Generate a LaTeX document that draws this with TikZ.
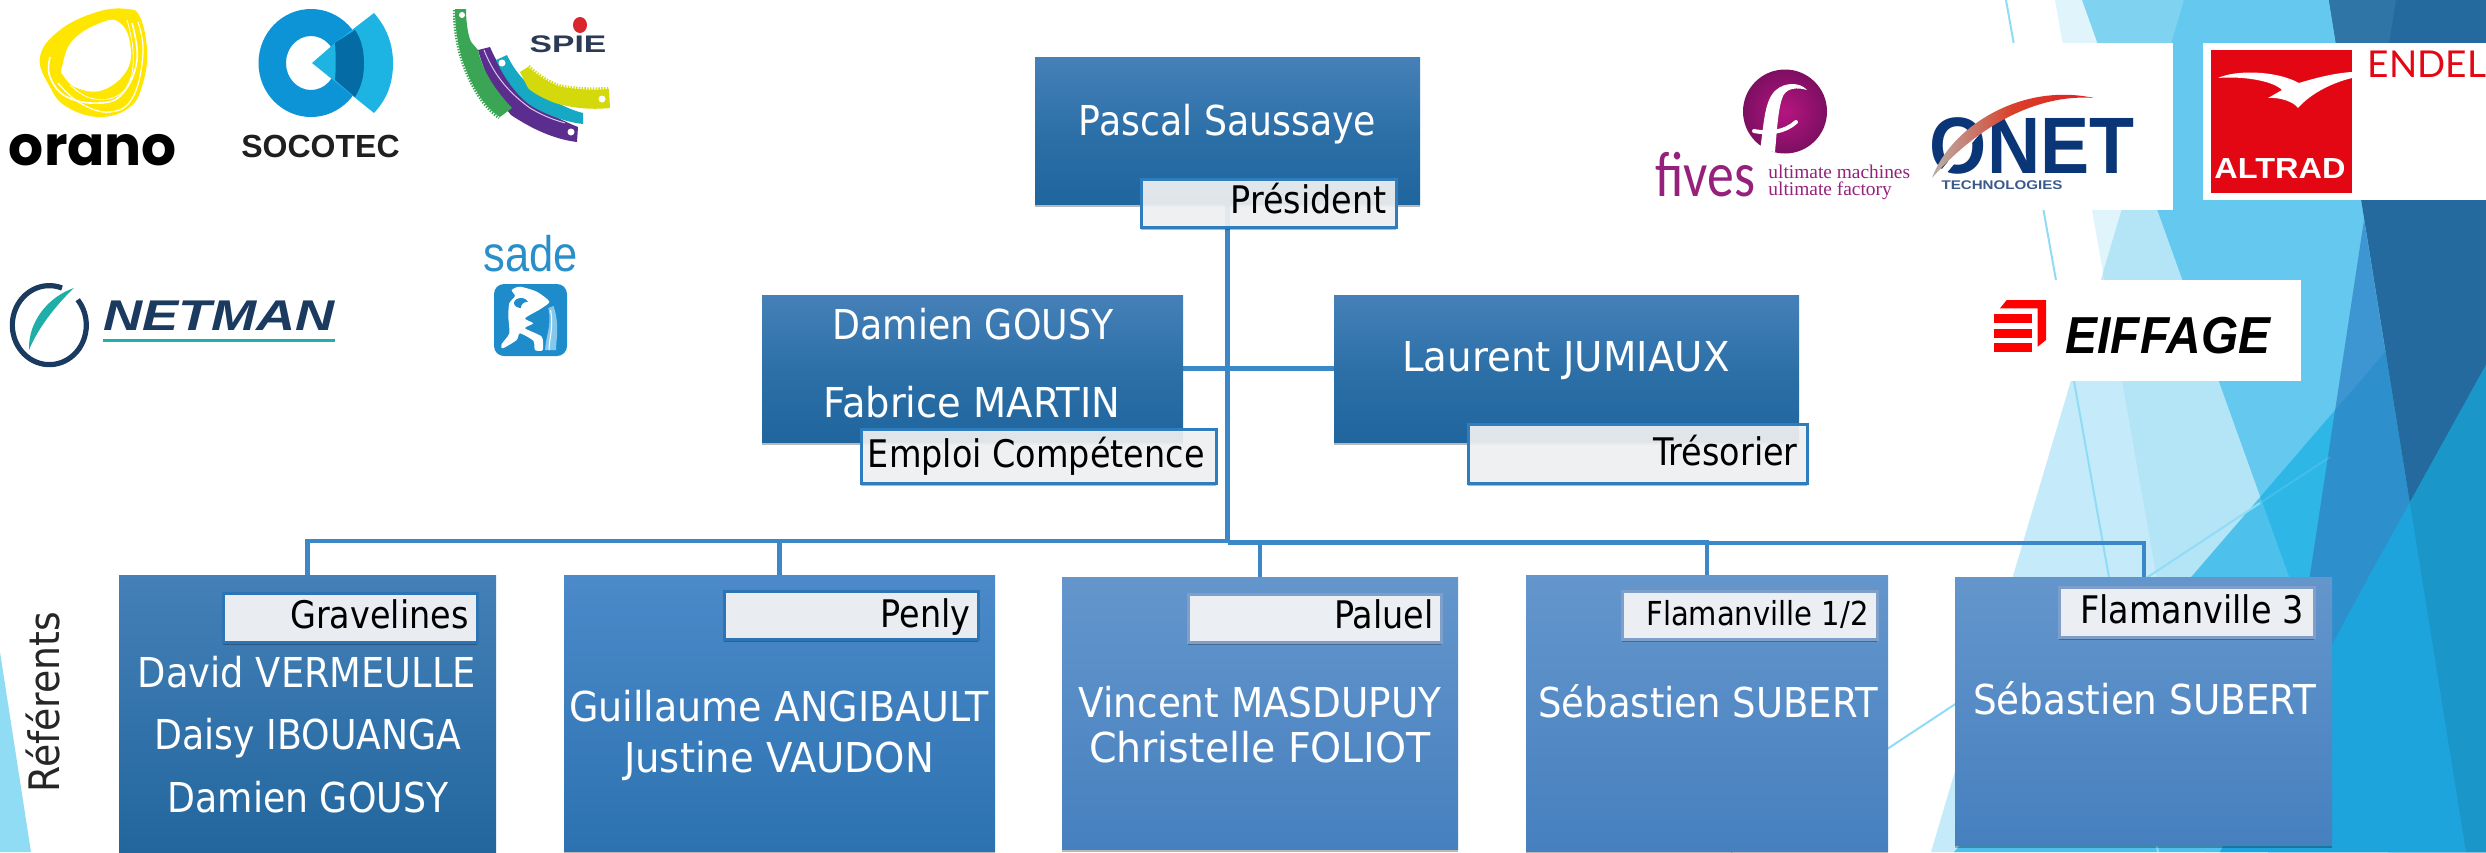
\documentclass[tikz,border=0pt]{standalone}
\usepackage{fontspec}
\usetikzlibrary{shadows}
\setmainfont{DejaVu Sans}
\newfontfamily\nmfont[FakeStretch=0.88]{DejaVu Sans}
\newfontfamily\refont[FakeStretch=0.9]{DejaVu Sans}
\newfontfamily\lgsans{Liberation Sans}
\newfontfamily\lgserif{Liberation Serif}
\newfontfamily\lgpop{Poppins}
\newfontfamily\lgcar{Carlito}
\newfontfamily\lglat{Lato}
\newcommand\dc[1]{\definecolor{#1}{HTML}{#1}}
\dc{DFF4FB}\dc{C5EAF9}\dc{B3E5F7}\dc{7FD3F0}\dc{65C8EE}\dc{4DC0EB}\dc{2EB7E6}\dc{3D96D2}\dc{2D90CC}\dc{246A9E}\dc{2F75A5}\dc{1EA4DC}\dc{1A96C9}
\dc{4680B8}\dc{1F659E}\dc{2D70A8}\dc{4580B8}\dc{22669E}\dc{4C8ACA}\dc{2C72B0}\dc{6496CC}\dc{4680BF}\dc{2E7DBE}\dc{F6F7F8}\dc{2C74B4}\dc{E9EDF2}\dc{7F9FCB}\dc{EBEEF3}
\dc{FFE600}\dc{0D94D6}\dc{1DB4E3}\dc{046BA5}\dc{5B2D8E}\dc{17A9C4}\dc{D4D90B}\dc{3AA655}\dc{D9272E}\dc{2B3A55}\dc{1A3A5F}\dc{1FAFA8}\dc{1FB0AC}\dc{2A8FC9}\dc{1E8CCB}\dc{86C8EC}\dc{B5157F}\dc{7D0F62}\dc{96217D}\dc{0A3577}\dc{B8B0AA}\dc{E21C21}\dc{3A5A8C}\dc{D9402A}\dc{D8C8EA}
\definecolor{cLineA}{HTML}{3C87C8}
\definecolor{cThin}{HTML}{90DCF5}
\definecolor{cRed}{HTML}{E30613}
\tikzset{
  softshadow/.style={drop shadow={shadow xshift=0pt,shadow yshift=-1.6pt,opacity=.28,fill=black}},
  bluebox/.style={rectangle,inner sep=0pt,outer sep=0pt,softshadow,top color=#1},
  topbox/.style={bluebox=4680B8,bottom color=1F659E,middle color=2D70A8},
  darkbox/.style={bluebox=4580B8,bottom color=22669E},
  midbox/.style={bluebox=4C8ACA,bottom color=2C72B0},
  palebox/.style={bluebox=6496CC,bottom color=4680BF},
  tag/.style={rectangle,inner sep=0pt,outer sep=0pt,softshadow,line width=1.5pt},
  tagtop/.style={tag,draw=2E7DBE,fill=F6F7F8,fill opacity=.9},
  tagdark/.style={tag,draw=2C74B4,fill=E9EDF2},
  tagpale/.style={tag,draw=7F9FCB,fill=EBEEF3},
  nameText/.style={inner sep=0pt,text=white,anchor=base,font=\nmfont\fontsize{20.6}{24}\selectfont},
  tagText/.style={inner sep=0pt,text=black,anchor=base east,font=\nmfont\fontsize{19}{22}\selectfont},
  conn/.style={draw=cLineA,line width=2.6pt},
  bus/.style={draw=cLineA,line width=2.2pt},
  thinline/.style={draw=cThin,line width=1pt},
  lgtext/.style={inner sep=0pt,anchor=base},
}
\newcommand\pxnode[6]{%
  \pgfmathsetmacro\pxcx{(#3+#5)/2}\pgfmathsetmacro\pxcy{(#4+#6)/2}%
  \pgfmathsetmacro\pxw{(#5-#3)/2}\pgfmathsetmacro\pxh{(#6-#4)/2}%
  \node[#2,minimum width=\pxw pt,minimum height=\pxh pt] (#1) at (\pxcx,\pxcy) {};}
\def\RLthree{(2055,0)--(2205,852)--(2486,852)--(2486,0)--cycle}
\def\RLone{(2184,0)--(1931,852)--(2486,852)--(2486,0)--cycle}
\def\RLtwo{(2082,0)--(2388,852)--(2486,852)--(2486,0)--cycle}
\def\BLfour{(2500,219)--(1954,852)--(2486,852)--(2500,852)--cycle}
\def\QLfive{(2364,220)--(2268,852)--(2466,852)--cycle}
\def\RLsix{(2329,0)--(2466,852)--(2486,852)--(2486,0)--cycle}
\def\BLseven{(2486,365)--(2368,578)--(2220,852)--(2486,852)--cycle}
\begin{document}
\begin{tikzpicture}[x=0.5pt,y=-0.5pt]
\useasboundingbox (0,0) rectangle (2486,852);
\clip (0,0) rectangle (2486,852);
% ---- background facets
\fill[white] (0,0) rectangle (2486,852);
\fill[cThin] (0,652)--(31,852)--(0,852)--cycle;
\fill[DFF4FB] \RLthree;
\fill[C5EAF9] \RLone;
\begin{scope}\clip \RLone; \fill[B3E5F7] \RLthree;\end{scope}
\begin{scope}\clip \RLthree; \fill[7FD3F0] \RLtwo;\end{scope}
\begin{scope}\clip \RLone; \fill[65C8EE] \RLtwo;\end{scope}
\fill[4DC0EB] \BLfour;
\begin{scope}\clip \RLtwo; \fill[2EB7E6] \BLfour;\end{scope}
\fill[3D96D2] \QLfive;
\begin{scope}\clip \BLfour; \fill[2D90CC] \QLfive;\end{scope}
\fill[246A9E] \RLsix;
\fill[2F75A5] (2329,0)--(2396,0)--(2389,43)--(2336,43)--cycle;
\fill[1EA4DC] \BLseven;
\begin{scope}\clip \RLsix; \fill[1A96C9] \BLseven;\end{scope}
\coordinate (thinAa) at (2006,0);
\coordinate (thinAb) at (2158,852);
\coordinate (thinBa) at (1731,852);
\coordinate (thinBm) at (2260,503);
\coordinate (thinBb) at (2330,457);
\draw[thinline] (thinAa) -- (thinAb);
\draw[thinline] (thinBa) -- (thinBm);
\draw[thinline,opacity=.2] (thinBm) -- (thinBb);
% ---- white logo panels
\fill[white] (1640,43) rectangle (2173,210);
\fill[white] (2203,43) rectangle (2486,200);
\fill[white] (1985,280) rectangle (2301,381);
% ---- connectors (behind the boxes)
\coordinate (pascalS) at (1227.5,204);
\coordinate (busL) at (1227.5,541);
\coordinate (busM) at (1227.5,542.5);
\coordinate (busR) at (1707,543);
\coordinate (gravN) at (307.5,575);
\coordinate (penlyN) at (779.5,575);
\coordinate (paluelN) at (1260,577);
\coordinate (flaN) at (1707,575);
\coordinate (flbN) at (2144,577);
\coordinate (damE) at (1183,368.5);
\coordinate (lauW) at (1334,368.5);
\draw[conn] (pascalS) -- (busM);
\draw[conn] (damE) -- (lauW);
\draw[bus] (busL) -| (gravN);
\draw[bus] (busL) -| (penlyN);
\draw[bus] (busM) -| (paluelN);
\draw[bus] (busM) -| (flaN);
\draw[bus] (busR) -| (flbN);
\pxnode{pascal}{topbox}{1035}{57}{1420}{204}
\pxnode{damien}{topbox}{762}{295}{1183}{442}
\pxnode{laurent}{topbox}{1334}{295}{1799}{442}
\pxnode{gravelines}{darkbox}{119}{575}{496}{853}
\pxnode{penly}{midbox}{564}{575}{995}{851}
\pxnode{paluel}{palebox}{1062}{577}{1458}{849}
\pxnode{flaone}{palebox}{1526}{575}{1888}{851}
\pxnode{flathree}{palebox}{1955}{577}{2332}{845}
\pxnode{tagPres}{tagtop}{1141}{179}{1396}{227}
\pxnode{tagEmploi}{tagtop}{861}{429}{1216}{483}
\pxnode{tagTres}{tagtop}{1468}{424}{1807}{483}
\pxnode{tagGrav}{tagdark}{223}{593}{477}{642}
\pxnode{tagPenly}{tagdark}{724}{591}{978}{639}
\pxnode{tagPaluel}{tagpale}{1188}{594}{1441}{642}
\pxnode{tagFla}{tagpale}{1622}{591}{1877}{639}
\pxnode{tagFlb}{tagpale}{2059}{587}{2314}{637}
% ---- names
\node[nameText] (tPascal) at (1227.5,135) {Pascal Saussaye};
\node[nameText] (tDamien) at (973,339) {Damien GOUSY};
\node[nameText,xscale=1.06] (tFabrice) at (972,417) {Fabrice MARTIN};
\node[nameText,xscale=1.07] (tLaurent) at (1566,371) {Laurent JUMIAUX};
\node[nameText,xscale=1.015] (tDavid) at (307,687) {David VERMEULLE};
\node[nameText] (tDaisy) at (308,749) {Daisy IBOUANGA};
\node[nameText] (tDamienB) at (308,812) {Damien GOUSY};
\node[nameText,xscale=1.05] (tGuillaume) at (779,721) {Guillaume ANGIBAULT};
\node[nameText,xscale=1.065] (tJustine) at (779,772) {Justine VAUDON};
\node[nameText,xscale=1.03] (tVincent) at (1260,717) {Vincent MASDUPUY};
\node[nameText,xscale=1.09] (tChristelle) at (1260,762) {Christelle FOLIOT};
\node[nameText,xscale=1.02] (tSeb) at (1708,717) {Sébastien SUBERT};
\node[nameText,xscale=1.03] (tSebB) at (2144.5,714) {Sébastien SUBERT};
% ---- tags
\node[tagText] (tPres) at (1387,213) {Président};
\node[tagText] (tEmploi) at (1205,467) {Emploi Compétence};
\node[tagText] (tTres) at (1798,465) {Trésorier};
\node[tagText] (tGrav) at (469,628) {Gravelines};
\node[tagText] (tPenly) at (971,627) {Penly};
\node[tagText] (tPaluel) at (1434,628) {Paluel};
\node[tagText,font=\nmfont\fontsize{16.5}{20}\selectfont] (tFla) at (1869,625) {Flamanville 1/2};
\node[tagText] (tFlb) at (2304,623) {Flamanville 3};
\node[inner sep=0pt,anchor=base,rotate=90,text=black!85,font=\refont\fontsize{21}{24}\selectfont] (tRef) at (59,702) {Référents};
% ---- logo: orano
\fill[FFE600] plot[smooth cycle,tension=.7] coordinates {(40,57)(60,30)(97,12)(127,9)(140,17)(147,50)(143,83)(130,107)(100,117)(67,107)(50,87)};
\fill[white] plot[smooth cycle,tension=.7] coordinates {(62,67)(73,40)(103,22)(120,23)(130,43)(127,70)(103,90)(77,88)(63,75)};
\draw[white,line width=.8pt] plot[smooth,tension=.7] coordinates {(50,57)(50,77)(67,97)(100,103)(123,93)(137,60)(132,23)};
\draw[white,line width=.6pt] plot[smooth,tension=.7] coordinates {(58,83)(80,103)(110,112)(133,97)(143,53)(138,22)};
\draw[white,line width=.4pt] plot[smooth,tension=.7] coordinates {(70,85)(90,98)(115,97)(130,80)(133,50)(127,20)};
\node[lgtext,font=\lgpop\bfseries\fontsize{27.5}{30}\selectfont,text=black] (tOrano) at (93,165) {orano};
% ---- logo: socotec
\fill[0D94D6,even odd rule] (311,63) ellipse [x radius=52.5,y radius=54] (311,63) ellipse [x radius=25,y radius=27];
\fill[1DB4E3] (374,13) .. controls (389,30) and (393,48) .. (393,63) .. controls (393,80) and (389,97) .. (374,113) -- (312,63) -- (335,43) -- cycle;
\fill[046BA5] (355,30) .. controls (362,40) and (364,52) .. (364,63) .. controls (364,75) and (362,86) .. (355,97) -- (335,80) .. controls (336,70) and (336,55) .. (335,43) -- cycle;
\node[lgtext,font=\lgsans\bfseries\fontsize{16}{18}\selectfont,text=black!88] (tSoco) at (320.5,157) {SOCOTEC};
% ---- logo: spie
\fill[5B2D8E] (478,50) -- (490,47) .. controls (503,77) and (520,95) .. (535,105) .. controls (550,114) and (565,122) .. (578,127) -- (577,142) .. controls (560,140) and (538,133) .. (511,115) .. controls (495,95) and (485,75) .. (478,50) -- cycle;
\draw[D8C8EA,line width=.5pt] (484,50) .. controls (495,78) and (512,95) .. (530,108) .. controls (545,117) and (555,120) .. (565,123);
\fill[white] (571,132) circle [radius=3.5];
\fill[17A9C4] (496,60) -- (507,55) .. controls (515,72) and (525,82) .. (535,90) .. controls (550,100) and (570,110) .. (583,113) -- (583,124) .. controls (565,122) and (548,115) .. (535,108) .. controls (520,100) and (505,80) .. (496,60) -- cycle;
\fill[white] (502,63) circle [radius=3.5];
\fill[D4D90B] (520,72) -- (528,67) .. controls (538,76) and (548,82) .. (558,86) .. controls (575,90) and (595,90) .. (609,89) -- (610,108) .. controls (590,110) and (572,108) .. (555,103) .. controls (542,98) and (532,92) .. (528,88) -- cycle;
\draw[D4D90B,line width=1.2pt,dash pattern=on .7pt off .7pt] (529,66) .. controls (538,75) and (548,81) .. (558,85) .. controls (575,89) and (595,89) .. (609,88);
\fill[white] (602,99) circle [radius=3.5];
\fill[3AA655] (455,9) -- (466,9) .. controls (466,25) and (469,40) .. (472,43) -- (478,50) .. controls (482,70) and (495,90) .. (512,108) -- (500,117) .. controls (485,108) and (470,85) .. (461,55) .. controls (457,40) and (455,25) .. (455,9) -- cycle;
\draw[3AA655,line width=1.2pt,dash pattern=on .7pt off .7pt] (454,10) .. controls (454,25) and (456,40) .. (460,55) .. controls (469,85) and (484,108) .. (499,118);
\fill[white] (462,15) circle [radius=3];
\fill[D9272E] (580,25) ellipse [x radius=7,y radius=8];
\node[lgtext,xscale=1.4,font=\lgsans\bfseries\fontsize{12}{14}\selectfont,text=2B3A55] (tSpie) at (568,52) {SPIE};
% ---- logo: netman
\draw[1A3A5F,line width=2.6pt] (62,288) arc[start angle=-70,end angle=-400,x radius=37,y radius=39.5];
\fill[1FAFA8] (74,288) .. controls (50,296) and (28,320) .. (29,350) .. controls (38,328) and (56,305) .. (74,288) -- cycle;
\node[lgtext,xscale=1.26,font=\lgsans\bfseries\itshape\fontsize{21.5}{24}\selectfont,text=1A3A5F] (tNetman) at (219,330) {NETMAN};
\fill[1FB0AC] (103,338.5) rectangle (335,341.5);
% ---- logo: sade
\node[lgtext,xscale=.87,font=\lgsans\fontsize{25}{28}\selectfont,text=2A8FC9] (tSade) at (530.5,271) {sade};
\fill[1E8CCB,rounded corners=5pt] (494,284) rectangle (567,356);
\fill[white] plot[smooth cycle,tension=.4] coordinates {(511.7,290)(520,286.7)(536.7,291.7)(549.3,301.7)(540,309.3)(525,318.3)(533.3,323.3)(525,328.3)(541.7,336.7)(542.7,350)(535,350)(533.3,340.7)(520,333.3)(516.7,340)(505,347.3)(501.7,348)(501.7,344)(509.3,333.3)(508.3,316.7)(509.3,303.3)(515,296)};
\fill[1E8CCB] (521,303) ellipse [x radius=7,y radius=5];
\fill[white] (527,308) circle [radius=6];
\fill[86C8EC] (548.3,308) -- (553.5,306) .. controls (560,325) and (556,340) .. (556,350) -- (545,350) .. controls (546,335) and (552,325) .. (548.3,308) -- cycle;
\draw[white,line width=.5pt] (550.5,310) .. controls (554,325) and (549,340) .. (549,350);
% ---- logo: fives
\shade[inner color=B5157F,outer color=7D0F62] (1785,111.5) ellipse [x radius=42,y radius=42];
\fill[white] (1760,150) .. controls (1764,125) and (1764,100) .. (1776,90) .. controls (1785,82) and (1800,82) .. (1807,90) .. controls (1797,87) and (1787,88) .. (1783,96) .. controls (1778,108) and (1777,130) .. (1775,152) -- cycle;
\draw[white,line width=2pt,line cap=round] (1754,131) .. controls (1770,134) and (1785,132) .. (1796,122);
\node[lgtext,xscale=.84,font=\lgcar\fontsize{32}{34}\selectfont,text=96217D] (tFives) at (1705,196) {fives};
\node[inner sep=0pt,anchor=base west,font=\lgserif\fontsize{9.7}{12}\selectfont,text=96217D] (tFivesA) at (1768,178) {ultimate machines};
\node[inner sep=0pt,anchor=base west,font=\lgserif\fontsize{9.7}{12}\selectfont,text=96217D] (tFivesB) at (1768,195) {ultimate factory};
% ---- logo: onet
\node[lgtext,xscale=.92,font=\lgsans\bfseries\fontsize{40}{44}\selectfont,text=0A3577] (tOnet) at (2032,173) {ONET};
\fill[white] (1936,176) -- (1994,107) -- (2000,110) -- (1944,176) -- cycle;
\shade[left color=B8B0AA,right color=E21C21,middle color=D9402A] (1932,178) .. controls (1950,128) and (2020,82) .. (2094,98) .. controls (2045,94) and (1985,118) .. (1932,178) -- cycle;
\node[lgtext,xscale=1.2,font=\lgsans\bfseries\fontsize{6.3}{8}\selectfont,text=3A5A8C] (tTech) at (2002,189) {TECHNOLOGIES};
% ---- logo: altrad / endel
\fill[cRed] (2210.5,50) rectangle (2352,193);
\fill[white] (2218,78) .. controls (2235,70) and (2275,70) .. (2299,83) .. controls (2315,78) and (2335,73) .. (2352,72) -- (2352,78) .. controls (2335,82) and (2312,92) .. (2298,108) .. controls (2294,102) and (2280,97) .. (2268,98) -- (2282,90) .. controls (2272,80) and (2240,76) .. (2218,78) -- cycle;
\node[lgtext,xscale=1.12,font=\lgsans\bfseries\fontsize{14.5}{16}\selectfont,text=white] (tAltrad) at (2280,178) {ALTRAD};
\node[lgtext,font=\lglat\fontsize{18.5}{21}\selectfont,text=cRed] (tEndel) at (2427,77) {ENDEL};
% ---- logo: eiffage
\fill[red] (2000,308.3) -- (2006.7,300) -- (2046,300) -- (2046,340) -- (2037.7,346.7) -- (2037.7,308.3) -- cycle;
\fill[red] (1994.3,314) rectangle (2031.7,323.3);
\fill[red] (1994.3,329) rectangle (2031.7,337.7);
\fill[red] (1994.3,343.3) rectangle (2031.7,352.3);
\node[lgtext,xscale=.92,font=\lgsans\bfseries\itshape\fontsize{26}{28}\selectfont,text=black] (tEiffage) at (2168,353) {EIFFAGE};
\end{tikzpicture}
\end{document}
